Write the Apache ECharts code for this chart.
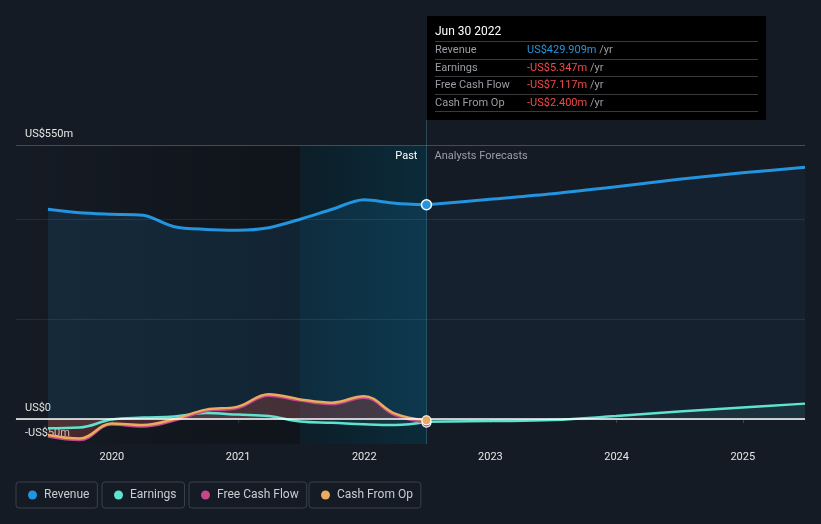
<!DOCTYPE html>
<html>
<head>
<meta charset="utf-8">
<script src="https://cdn.jsdelivr.net/npm/echarts@6/dist/echarts.min.js"></script>
<style>
html,body{margin:0;padding:0;background:#151b24;}
#chart{width:821px;height:524px;}
</style>
</head>
<body>
<div id="chart"></div>
<script>
// ---- data ----
const pastDates = ['2019-06-30','2019-09-30','2019-12-31','2020-03-31','2020-06-30','2020-09-30','2020-12-31','2021-03-31','2021-06-30','2021-09-30','2021-12-31','2022-03-31','2022-06-30'];
const revenuePast = [421, 414, 411, 409, 386, 380.5, 379, 384, 401, 421, 440, 433, 429.909];
const earningsPast = [-18.5, -17, -1, 3, 5, 12, 9, 6, -5, -7.5, -10.5, -12, -5.347];
const fcfPast = [-35, -42, -11, -15, -3, 16, 22, 47, 37, 30, 43, 8, -7.117];
const cfoPast = [-32, -39, -8.7, -12, 0, 19, 25, 50, 39.5, 33, 46, 11, -2.4];

const forecastDates = ['2022-06-30','2022-12-31','2023-06-30','2023-12-31','2024-06-30','2024-12-31','2025-06-30'];
const revenueForecast = [429.909, 441, 452, 466, 481, 494, 505];
const earningsForecast = [-5.347, -4, -2, 6, 15, 23, 31];

const xTickYears = [2020, 2021, 2022, 2023, 2024, 2025];
const yLabelValues = [-50, 0, 550];
const gridValues = [200, 400, 550];
const hoverLabel = 'Jun 30 2022';
const pastStart = 2019.24;
const bandStart = '2021-06-30';

// ---- helpers ----
function decYear(s) {
  const [y, m, d] = s.split('-').map(Number);
  const t = Date.UTC(y, m - 1, d), a = Date.UTC(y, 0, 1), b = Date.UTC(y + 1, 0, 1);
  return y + (t - a) / (b - a);
}
const px = pastDates.map(decYear);
const fx = forecastDates.map(decYear);
const pair = (xs, ys) => xs.map((x, i) => [x, ys[i]]);
const xMax = fx[fx.length - 1];
const hoverX = px[px.length - 1];
const last = pastDates.length - 1;

const C = { rev: '#2394df', earn: '#5fe3cf', fcf: '#c4468b', cfo: '#e9ab5d' };

function fmtM(v) {
  const s = 'US$' + Math.abs(v).toFixed(3) + 'm';
  return v < 0 ? '-' + s : s;
}
function yFmt(v) {
  if (v === 0) return 'US$0';
  return (v < 0 ? '-US$' : 'US$') + Math.abs(v) + 'm';
}

const chart = echarts.init(document.getElementById('chart'), null, { renderer: 'canvas' });

function legendBox(name, left) {
  return {
    data: [name], left: left, top: 482, orient: 'horizontal',
    icon: 'circle', itemWidth: 9, itemHeight: 9,
    padding: [7, 8, 7, 12],
    borderColor: '#3a404b', borderWidth: 1, borderRadius: 3,
    backgroundColor: 'transparent',
    textStyle: { color: '#c9ccd1', fontSize: 12, fontFamily: 'Roboto', padding: [0, 0, 0, 2] },
    selectedMode: false
  };
}

function tooltipHtml() {
  const rows = [
    ['Revenue', revenuePast[last], '#2394df'],
    ['Earnings', earningsPast[last], '#f04a4a'],
    ['Free Cash Flow', fcfPast[last], '#f04a4a'],
    ['Cash From Op', cfoPast[last], '#f04a4a']
  ];
  let h = '<div style="width:323px;font-family:Roboto;font-size:11px;">';
  h += '<div style="color:#fff;font-size:12px;line-height:14px;padding-bottom:3px;border-bottom:1px solid #3a3a3a;">' + hoverLabel + '</div>';
  rows.forEach(r => {
    const col = r[1] < 0 ? '#f04a4a' : r[2];
    h += '<div style="line-height:16.5px;border-bottom:1px solid #3a3a3a;white-space:nowrap;">' +
      '<span style="display:inline-block;width:92px;color:#9a9ea4;">' + r[0] + '</span>' +
      '<span style="color:' + col + ';">' + fmtM(r[1]) + '</span>' +
      '<span style="color:#9a9ea4;"> /yr</span></div>';
  });
  h += '</div>';
  return h;
}

const option = {
  backgroundColor: '#151b24',
  animation: false,
  textStyle: { fontFamily: 'Roboto' },
  grid: { left: 16, right: 16, top: 120, bottom: 80 },
  legend: [
    legendBox('Revenue', 16),
    legendBox('Earnings', 102),
    legendBox('Free Cash Flow', 189),
    legendBox('Cash From Op', 309)
  ],
  tooltip: {
    trigger: 'axis',
    triggerOn: 'none',
    alwaysShowContent: true,
    transitionDuration: 0,
    showDelay: 0,
    hideDelay: 100000,
    position: [427, 16],
    padding: [8, 8],
    backgroundColor: '#000',
    borderWidth: 0,
    axisPointer: { type: 'none' },
    extraCssText: 'box-shadow:none;border-radius:0;',
    formatter: tooltipHtml
  },
  xAxis: {
    type: 'value', min: pastStart, max: xMax,
    axisLine: { show: true, lineStyle: { color: '#3d424c', width: 1 } },
    axisTick: { show: true, customValues: xTickYears, length: 4, lineStyle: { color: '#3d424c' } },
    axisLabel: { customValues: xTickYears, color: '#e6e6e6', fontSize: 11, margin: 8, formatter: v => String(v) },
    splitLine: { show: false }
  },
  yAxis: {
    type: 'value', min: -50, max: 600,
    axisLine: { show: false }, axisTick: { show: false },
    splitLine: { show: false },
    axisLabel: {
      customValues: yLabelValues, inside: true, margin: 9,
      color: '#e6e6e6', fontSize: 11, verticalAlign: 'bottom', padding: [0, 0, 5, 0],
      formatter: yFmt
    }
  },
  series: [
    {
      // background bands
      type: 'line', data: [], z: 1, silent: true,
      markArea: {
        silent: true,
        data: [
          [{ xAxis: pastStart, yAxis: -50, itemStyle: { color: new echarts.graphic.LinearGradient(0, 0, 1, 0, [{ offset: 0, color: 'rgba(0,0,0,0)' }, { offset: 1, color: 'rgba(0,0,0,0.27)' }]) } }, { xAxis: decYear(bandStart), yAxis: 550 }],
          [{ xAxis: decYear(bandStart), yAxis: -50, itemStyle: { color: new echarts.graphic.LinearGradient(0, 0, 1, 0, [{ offset: 0, color: '#0c1e28' }, { offset: 1, color: '#0b2b3a' }]) },
             label: { show: true, formatter: 'Past', position: 'insideTopRight', distance: 6, padding: [0, 3, 0, 0], color: '#ffffff', fontSize: 11 } },
           { xAxis: hoverX, yAxis: 550 }],
          [{ xAxis: hoverX, yAxis: -50, itemStyle: { color: 'rgba(0,0,0,0)' },
             label: { show: true, formatter: 'Analysts Forecasts', position: 'insideTopLeft', distance: 6, padding: [0, 0, 0, 2], color: '#9a9ea6', fontSize: 11 } },
           { xAxis: xMax, yAxis: 550 }]
        ]
      }
    },
    {
      name: 'Revenue', type: 'line', data: pair(px, revenuePast), smooth: 0.3,
      showSymbol: false, symbol: 'circle', color: C.rev,
      lineStyle: { width: 3, color: C.rev },
      areaStyle: { color: 'rgba(35,148,223,0.18)' },
      emphasis: { disabled: true },
      markLine: {
        silent: true, symbol: 'none', label: { show: false },
        data: [
          { yAxis: gridValues[0], lineStyle: { color: 'rgba(255,255,255,0.08)', width: 1, type: 'solid' } },
          { yAxis: gridValues[1], lineStyle: { color: 'rgba(255,255,255,0.08)', width: 1, type: 'solid' } },
          { yAxis: gridValues[2], lineStyle: { color: '#454a55', width: 1, type: 'solid' } },
          { yAxis: 0, lineStyle: { color: '#ffffff', width: 1.5, type: 'solid' } },
          [{ coord: [hoverX, 600] }, { coord: [hoverX, -50], lineStyle: { color: 'rgba(70,130,150,0.45)', width: 1, type: 'solid' } }]
        ]
      },
      markPoint: {
        symbol: 'circle', symbolSize: 10, silent: true, label: { show: false },
        itemStyle: { color: C.rev, borderColor: '#ffffff', borderWidth: 1.5 },
        data: [{ coord: [hoverX, revenuePast[last]] }]
      }
    },
    {
      name: 'Revenue', type: 'line', data: pair(fx, revenueForecast), smooth: 0.3,
      showSymbol: false, color: C.rev,
      lineStyle: { width: 3, color: C.rev },
      areaStyle: { color: 'rgba(35,148,223,0.08)' },
      emphasis: { disabled: true }
    },
    {
      name: 'Earnings', type: 'line', data: pair(px, earningsPast), smooth: 0.4,
      showSymbol: false, color: C.earn,
      lineStyle: { width: 2.5, color: C.earn },
      areaStyle: { color: 'rgba(95,227,207,0.10)' },
      emphasis: { disabled: true }
    },
    {
      name: 'Earnings', type: 'line', data: pair(fx, earningsForecast), smooth: 0.4,
      showSymbol: false, color: C.earn,
      lineStyle: { width: 2.5, color: C.earn },
      areaStyle: { color: 'rgba(95,227,207,0.12)' },
      emphasis: { disabled: true }
    },
    {
      name: 'Free Cash Flow', type: 'line', data: pair(px, fcfPast), smooth: 0.4,
      showSymbol: false, color: C.fcf,
      lineStyle: { width: 2.5, color: C.fcf },
      areaStyle: { color: 'rgba(190,50,60,0.35)' },
      emphasis: { disabled: true },
      markPoint: {
        symbol: 'circle', symbolSize: 9, silent: true, label: { show: false },
        itemStyle: { color: C.fcf, borderColor: '#ffffff', borderWidth: 1.2 },
        data: [{ coord: [hoverX, fcfPast[last]] }]
      }
    },
    {
      name: 'Cash From Op', type: 'line', data: pair(px, cfoPast), smooth: 0.4,
      showSymbol: false, color: C.cfo,
      lineStyle: { width: 2.5, color: C.cfo },
      areaStyle: { color: 'rgba(233,171,93,0.10)' },
      emphasis: { disabled: true },
      markPoint: {
        symbol: 'circle', symbolSize: 9, silent: true, label: { show: false },
        itemStyle: { color: C.cfo, borderColor: '#ffffff', borderWidth: 1.2 },
        data: [{ coord: [hoverX, cfoPast[last]] }]
      }
    }
  ]
};

chart.setOption(option);
const tipPt = chart.convertToPixel({ gridIndex: 0 }, [hoverX, revenuePast[last]]);
chart.dispatchAction({ type: 'showTip', x: tipPt[0], y: tipPt[1] });
</script>
</body>
</html>
